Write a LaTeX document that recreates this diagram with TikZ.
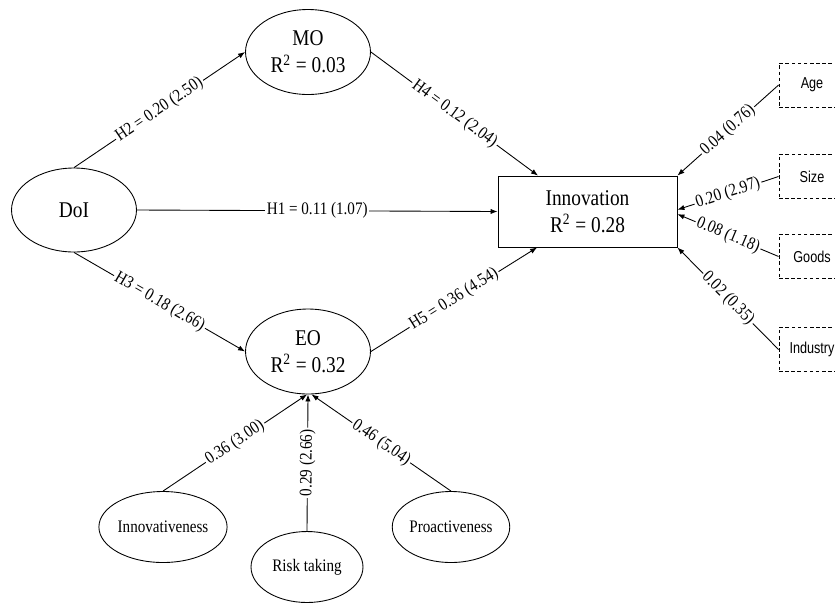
\documentclass[tikz,border=0pt]{standalone}
\usepackage{fontspec}
\setmainfont{Liberation Serif}[FakeStretch=0.86]
\newfontfamily\ctrlfont{Liberation Sans}[FakeStretch=0.8]
\usetikzlibrary{arrows.meta,calc,shapes.geometric}
\begin{document}
\begin{tikzpicture}[x=0.02cm,y=-0.02cm,
  lat/.style={draw,ellipse,inner sep=0pt,line width=0.5pt,align=center,
    minimum width=2.5cm,minimum height=1.7cm,font=\fontsize{12.8}{15.3}\selectfont},
  sml/.style={draw,ellipse,inner sep=0pt,line width=0.5pt,
    minimum width=2.24cm,minimum height=1.42cm,font=\fontsize{10}{12}\selectfont},
  inn/.style={draw,rectangle,inner sep=0pt,line width=0.5pt,align=center,
    minimum width=3.58cm,minimum height=1.42cm,font=\fontsize{12.8}{15.3}\selectfont},
  ctrl/.style={draw,rectangle,dash pattern=on 2pt off 1.5pt,inner sep=0pt,line width=0.5pt,
    minimum width=1.32cm,minimum height=0.88cm,font=\ctrlfont\fontsize{9}{11}\selectfont},
  arr/.style={line width=0.5pt,-{Latex[length=4pt,width=3pt]}},
  lbl/.style={fill=white,inner sep=1pt,font=\fontsize{10}{12}\selectfont}
]
\useasboundingbox (0,0) rectangle (835,603);

\node[lat,minimum height=1.68cm] (DoI) at (74,210) {DoI};
\node[lat] (MO) at (308,52) {MO\\R\textsuperscript{2} = 0.03};
\node[lat] (EO) at (308,351.5) {EO\\R\textsuperscript{2} = 0.32};
\node[inn] (Inn) at (587.5,211.5) {Innovation\\R\textsuperscript{2} = 0.28};

\node[ctrl] (Age) at (812,85) {Age};
\node[ctrl] (Size) at (812,176.5) {Size};
\node[ctrl] (Goods) at (812,256.5) {Goods};
\node[ctrl] (Ind) at (812,349.5) {Industry};

\node[sml] (Innv) at (163,527) {Innovativeness};
\node[sml] (Risk) at (307,567) {Risk taking};
\node[sml] (Pro) at (451,527) {Proactiveness};

\draw[arr] (DoI.north) -- node[lbl,sloped]{H2 = 0.20 (2.50)} (MO.west);
\draw[arr] (DoI.east) -- node[lbl]{H1 = 0.11 (1.07)} (Inn.west);
\draw[arr] (DoI.south) -- node[lbl,sloped]{H3 = 0.18 (2.66)} (EO.west);
\draw[arr] (MO.east) -- node[lbl,sloped]{H4 = 0.12 (2.04)} ($(Inn.north west)!0.225!(Inn.north east)$);
\draw[arr] (EO.east) -- node[lbl,sloped]{H5 = 0.36 (4.54)} ($(Inn.south west)!0.22!(Inn.south east)$);

\draw[arr] (Age.west) -- node[lbl,sloped]{0.04 (0.76)} (Inn.north east);
\draw[arr] (Size.west) -- node[lbl,sloped]{0.20 (2.97)} ([yshift=1pt]Inn.east);
\draw[arr] (Goods.west) -- node[lbl,sloped]{0.08 (1.18)} ([yshift=-1.5pt]Inn.east);
\draw[arr] (Ind.west) -- node[lbl,sloped]{0.02 (0.35)} (Inn.south east);

\draw[arr] (Innv.north) -- node[lbl,sloped]{0.36 (3.00)} ([xshift=-0.5pt]EO.south);
\draw[arr] (Risk.north) -- node[lbl,sloped]{0.29 (2.66)} (EO.south);
\draw[arr] (Pro.north) -- node[lbl,sloped]{0.46 (5.04)} ([xshift=2pt]EO.south);
\end{tikzpicture}
\end{document}
